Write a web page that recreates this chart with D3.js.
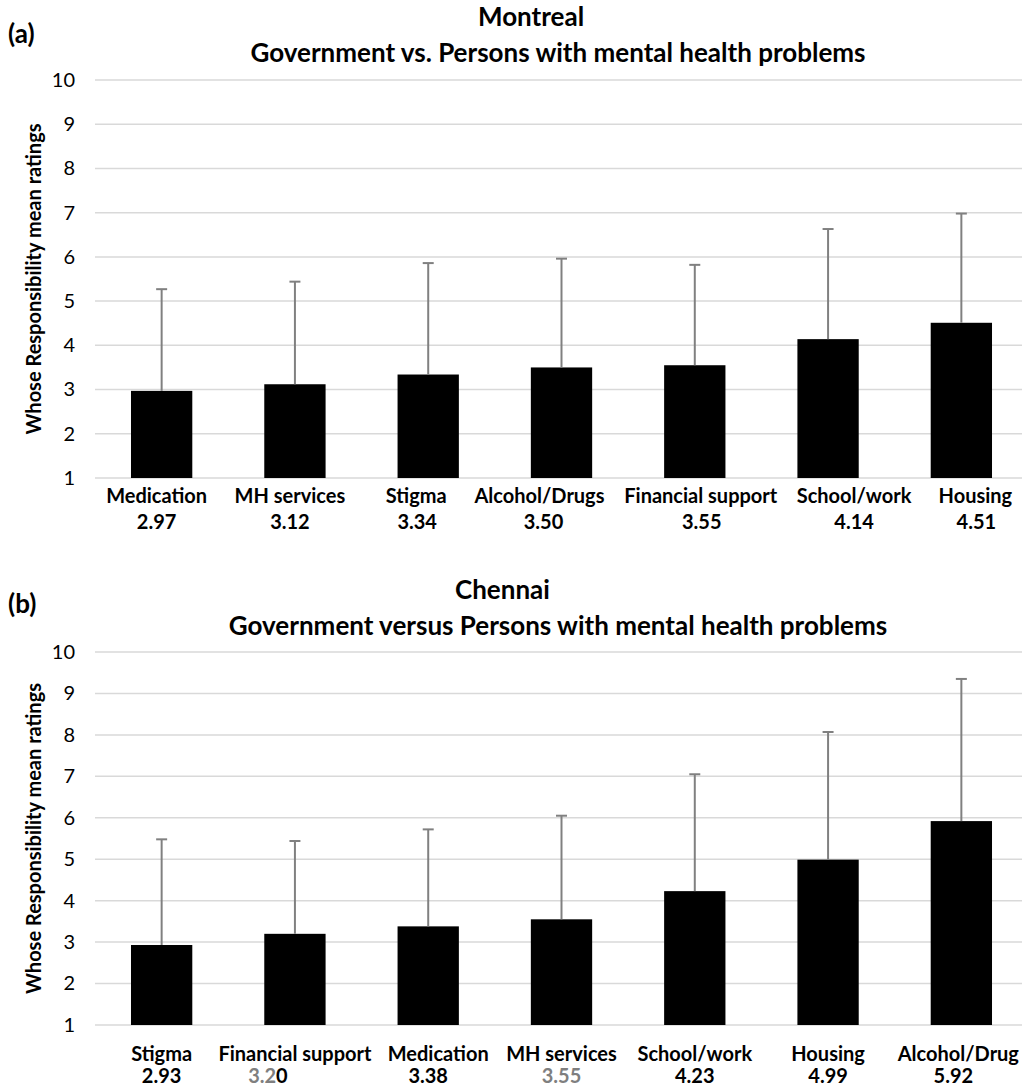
<!DOCTYPE html>
<html>
<head>
<meta charset="utf-8">
<script src="https://cdn.jsdelivr.net/npm/d3@7"></script>
<style>
  body { margin: 0; background: #fff; }
  svg text { font-family: Lato, "Open Sans", sans-serif; fill: #000; }
</style>
</head>
<body>
<svg id="chart" width="1022" height="1091"></svg>
<script>
// Panel (a) Montreal
const catsA = ["Medication", "MH services", "Stigma", "Alcohol/Drugs", "Financial support", "School/work", "Housing"];
const meansA = [2.97, 3.12, 3.34, 3.50, 3.55, 4.14, 4.51];
const sdA = [2.30, 2.32, 2.52, 2.46, 2.27, 2.49, 2.47];
const valueLabelsA = ["2.97", "3.12", "3.34", "3.50", "3.55", "4.14", "4.51"];

// Panel (b) Chennai
const catsB = ["Stigma", "Financial support", "Medication", "MH services", "School/work", "Housing", "Alcohol/Drug"];
const meansB = [2.93, 3.20, 3.38, 3.55, 4.23, 4.99, 5.92];
const sdB = [2.55, 2.24, 2.34, 2.50, 2.82, 3.08, 3.43];
const valueLabelsB = ["2.93", "3.20", "3.38", "3.55", "4.23", "4.99", "5.92"];

const yTicks = [1, 2, 3, 4, 5, 6, 7, 8, 9, 10];

// label nudges (layout only), px relative to bar centre
const nudgeA = [-5, -5, -12, -22, 6, 26, 14];
const nudgeValA = [-5, -5, -11, -18, 7, 26, 15];
const nudgeB = [0, 0, 10, 0, 0, 0, -3];
const nudgeValB = [0, -27, 0, 0, 0, 0, -8];

const svg = d3.select("#chart");

function drawPanel(opts) {
    const x = d3.scaleBand().domain(opts.cats).range([95, 1028]).paddingInner(0.54).paddingOuter(0.27);
    const y = d3.scaleLinear().domain([1, 10]).range([opts.y1, opts.y10]);
    const g = svg.append("g");

    // panel tag + titles
    g.append("text").attr("x", 8).attr("y", opts.tagY).attr("font-size", 26).attr("font-weight", "bold").text(opts.tag);
    g.append("text").attr("x", opts.titleX).attr("y", opts.titleY)
        .attr("font-size", 26).attr("font-weight", "bold").text(opts.title);
    g.append("text").attr("x", 558).attr("y", opts.titleY + 36).attr("text-anchor", "middle")
        .attr("font-size", 26).attr("font-weight", "bold").text(opts.subtitle);

    // gridlines
    g.append("g").selectAll("line").data(yTicks).join("line")
        .attr("x1", 95).attr("x2", 1022)
        .attr("y1", d => y(d)).attr("y2", d => y(d))
        .attr("stroke", "#d9d9d9").attr("stroke-width", 1.5);

    // y axis labels
    const yAxis = d3.axisLeft(y).tickValues(yTicks).tickSize(0).tickPadding(0);
    g.append("g").attr("transform", "translate(75,0)").call(yAxis)
        .call(a => a.select(".domain").remove())
        .call(a => a.selectAll("text").attr("font-size", 20).attr("fill", "#000")
            .style("font-family", "Lato, 'Open Sans', sans-serif"));

    g.append("text")
        .attr("transform", `translate(41,${(opts.y1 + opts.y10) / 2}) rotate(-90)`)
        .attr("text-anchor", "middle").attr("font-size", 20).attr("font-weight", "bold")
        .text("Whose Responsibility mean ratings");

    // bars
    g.append("g").selectAll("rect").data(opts.cats).join("rect")
        .attr("x", d => x(d))
        .attr("width", x.bandwidth())
        .attr("y", (d, i) => y(opts.means[i]))
        .attr("height", (d, i) => y(1) - y(opts.means[i]))
        .attr("fill", "#000");

    // error bars (upper only)
    const err = g.append("g").attr("stroke", "#808080").attr("stroke-width", 2);
    opts.cats.forEach((c, i) => {
        const cx = x(c) + x.bandwidth() / 2;
        const top = y(opts.means[i] + opts.sd[i]);
        err.append("line").attr("x1", cx).attr("x2", cx).attr("y1", y(opts.means[i])).attr("y2", top);
        err.append("line").attr("x1", cx - 5.5).attr("x2", cx + 5.5).attr("y1", top).attr("y2", top);
    });

    // category labels
    const lab = g.append("g").attr("text-anchor", "middle").attr("font-weight", "bold").attr("font-size", 20);
    opts.cats.forEach((c, i) => {
        const cx = x(c) + x.bandwidth() / 2;
        lab.append("text").attr("x", cx + opts.nudge[i]).attr("y", opts.labY).text(c);
        const t = lab.append("text").attr("x", cx + opts.nudgeVal[i]).attr("y", opts.labY + opts.valGap);
        opts.valParts[i].forEach(p => t.append("tspan").attr("fill", p[1]).text(p[0]));
    });
}

drawPanel({
    tag: "(a)", tagY: 43, title: "Montreal", titleX: 478, subtitle: "Government vs. Persons with mental health problems",
    titleY: 26, cats: catsA, means: meansA, sd: sdA, y1: 478, y10: 80,
    labY: 503, valGap: 26, nudge: nudgeA, nudgeVal: nudgeValA,
    valParts: valueLabelsA.map(v => [[v, "#000"]])
});

drawPanel({
    tag: "(b)", tagY: 613, title: "Chennai", titleX: 455, subtitle: "Government versus Persons with mental health problems",
    titleY: 599, cats: catsB, means: meansB, sd: sdB, y1: 1025, y10: 652,
    labY: 1061, valGap: 22, nudge: nudgeB, nudgeVal: nudgeValB,
    valParts: valueLabelsB.map((v, i) => i === 1 ? [["3.2", "#7f7f7f"], ["0", "#000"]]
        : i === 3 ? [[v, "#7f7f7f"]] : [[v, "#000"]])
});
</script>
</body>
</html>
